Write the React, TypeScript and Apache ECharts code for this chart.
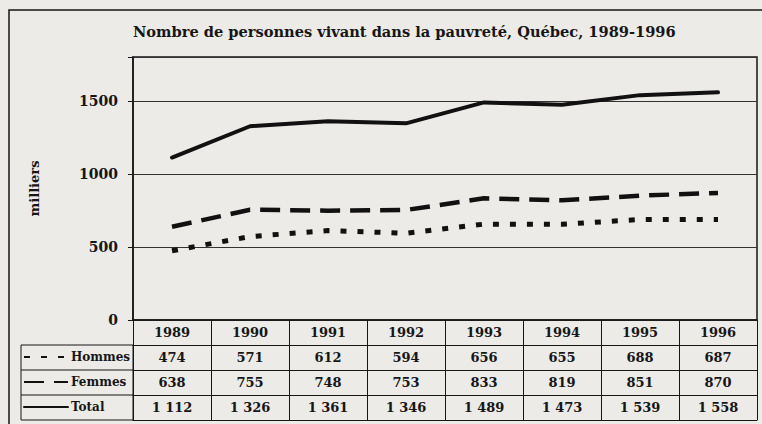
import React, { useEffect, useRef } from "react";
import * as echarts from "echarts";

const years = ["1989", "1990", "1991", "1992", "1993", "1994", "1995", "1996"];
const hommes = [474, 571, 612, 594, 656, 655, 688, 687];
const femmes = [638, 755, 748, 753, 833, 819, 851, 870];
const total = [1112, 1326, 1361, 1346, 1489, 1473, 1539, 1558];
const seriesNames = ["Hommes", "Femmes", "Total"];
const titleText = "Nombre de personnes vivant dans la pauvreté, Québec, 1989-1996";
const yAxisName = "milliers";

const fmt = (n: number) =>
  n >= 1000 ? `${Math.floor(n / 1000)} ${String(n % 1000).padStart(3, "0")}` : String(n);

const FONT = "'DejaVu Serif', serif";
const INK = "#161616";
const BG = "#ecebe8";
const W = 762;
const H = 424;
const GRID = { left: 133, right: 5, top: 57, bottom: 104 };
const ROW = 25;
const TABLE_LEFT = 21;

export default function App() {
  const ref = useRef<HTMLDivElement>(null);
  useEffect(() => {
    if (!ref.current) return;
    const chart = echarts.init(ref.current, null, { renderer: "svg" });
    const axisY = H - GRID.bottom;
    const tableRows = [years, hommes.map(fmt), femmes.map(fmt), total.map(fmt)];
    const xAxes: any[] = tableRows.map((labels, i) => ({
      type: "category",
      data: years,
      position: "bottom",
      offset: i * ROW,
      boundaryGap: true,
      axisLine: { show: true, lineStyle: { color: INK, width: i === 0 ? 1.5 : 1 } },
      axisTick: { show: true, interval: 0, length: ROW, lineStyle: { color: INK, width: 1 } },
      axisLabel: {
        interval: 0,
        margin: 6,
        formatter: (_v: string, idx: number) => labels[idx],
        fontFamily: FONT,
        fontWeight: "bold",
        fontSize: 13,
        color: INK,
      },
      splitLine: { show: false },
    }));
    xAxes.push({
      type: "category",
      data: years,
      position: "bottom",
      offset: tableRows.length * ROW,
      axisLine: { show: true, lineStyle: { color: INK, width: 1 } },
      axisTick: { show: false },
      axisLabel: { show: false },
    });
    const lineStyles: any[] = [
      { type: [6, 11], width: 5, cap: "butt" },
      { type: [20, 10], width: 4.5, cap: "butt" },
      { type: "solid", width: 4, cap: "round" },
    ];
    const dataSets = [hommes, femmes, total];
    chart.setOption({
      animation: false,
      backgroundColor: BG,
      title: {
        text: titleText,
        left: 133,
        top: 24,
        padding: 0,
        textStyle: { fontFamily: FONT, fontWeight: "bold", fontSize: 14.6, color: INK },
      },
      grid: {
        ...GRID,
        show: true,
        borderColor: INK,
        borderWidth: 1.5,
        backgroundColor: "transparent",
      },
      legend: {
        orient: "vertical",
        left: TABLE_LEFT + 2,
        top: axisY + ROW + 6,
        itemWidth: 44,
        itemHeight: 14,
        itemGap: 13,
        padding: 0,
        selectedMode: false,
        data: seriesNames,
        itemStyle: { color: "transparent", borderColor: "transparent", borderWidth: 0, opacity: 0 },
        textStyle: { fontFamily: FONT, fontWeight: "bold", fontSize: 12, color: INK, padding: [0, 0, 0, -2] },
      },
      xAxis: xAxes,
      yAxis: {
        type: "value",
        min: 0,
        max: 1800,
        interval: 500,
        name: yAxisName,
        nameLocation: "middle",
        nameRotate: 90,
        nameGap: 92,
        nameTextStyle: { fontFamily: FONT, fontWeight: "bold", fontSize: 13, color: INK },
        axisLine: { show: true, lineStyle: { color: INK, width: 1.5 } },
        axisTick: { show: true, length: 5, lineStyle: { color: INK, width: 1 } },
        axisLabel: {
          formatter: (v: number) => (v % 500 === 0 ? String(v) : ""),
          margin: 15,
          fontFamily: FONT,
          fontWeight: "bold",
          fontSize: 14,
          color: INK,
        },
        splitLine: { show: true, lineStyle: { color: "#333", width: 1 } },
      },
      series: seriesNames.map((name, i) => ({
        name,
        type: "line",
        xAxisIndex: 0,
        data: dataSets[i],
        symbol: "none",
        color: "#111",
        lineStyle: { color: "#111", ...lineStyles[i] },
      })),
      graphic: [
        {
          type: "rect",
          silent: true,
          shape: { x: 9, y: 10, width: 900, height: 600 },
          style: { fill: "none", stroke: INK, lineWidth: 1.5 },
        },
        {
          type: "rect",
          silent: true,
          shape: { x: TABLE_LEFT, y: axisY + ROW, width: GRID.left - TABLE_LEFT, height: 3 * ROW },
          style: { fill: "none", stroke: INK, lineWidth: 1 },
        },
        {
          type: "line",
          silent: true,
          shape: { x1: TABLE_LEFT, y1: axisY + 2 * ROW, x2: GRID.left, y2: axisY + 2 * ROW },
          style: { stroke: INK, lineWidth: 1 },
        },
        {
          type: "line",
          silent: true,
          shape: { x1: TABLE_LEFT, y1: axisY + 3 * ROW, x2: GRID.left, y2: axisY + 3 * ROW },
          style: { stroke: INK, lineWidth: 1 },
        },
      ],
    });
    return () => chart.dispose();
  }, []);
  return (
    <div
      ref={ref}
      style={{ position: "absolute", left: 0, top: 0, width: W, height: H, background: BG }}
    />
  );
}
